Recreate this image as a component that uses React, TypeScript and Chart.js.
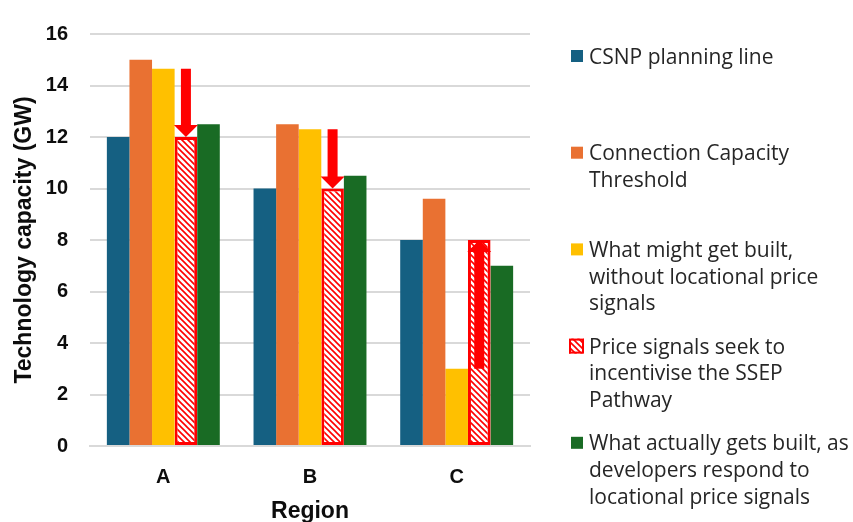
import React, { useEffect, useRef } from "react";
import { Chart, registerables } from "chart.js";

Chart.register(...registerables);

// ---- data ----
const regions = ["A", "B", "C"];
const csnpPlanning = [12, 10, 8];
const connectionThreshold = [15, 12.5, 9.6];
const withoutPriceSignals = [14.65, 12.3, 3];
const ssepPathway = [12, 10, 8];
const actuallyBuilt = [12.5, 10.5, 7];
const yTickValues = [0, 2, 4, 6, 8, 10, 12, 14, 16];

const seriesNames = [
  "CSNP planning line",
  "Connection Capacity Threshold",
  "What might get built, without locational price signals",
  "Price signals seek to incentivise the SSEP Pathway",
  "What actually gets built, as developers respond to locational price signals",
];
const legendLines = [
  ["CSNP planning line"],
  ["Connection Capacity", "Threshold"],
  ["What might get built,", "without locational price", "signals"],
  ["Price signals seek to", "incentivise the SSEP", "Pathway"],
  ["What actually gets built, as", "developers respond to", "locational price signals"],
];

const COLORS = {
  blue: "#156082",
  orange: "#E97132",
  yellow: "#FFC000",
  red: "#FF0000",
  green: "#196B24",
  grid: "#d9d9d9",
  axisText: "#0d0d0d",
  legendText: "#262626",
};

const AXIS_FONT = "'Liberation Sans', Arial, sans-serif";
const LEGEND_FONT = "'Open Sans', sans-serif";

// red diagonal stripes on white
function makeHatch(): CanvasPattern | string {
  const s = 6;
  const c = document.createElement("canvas");
  c.width = s;
  c.height = s;
  const g = c.getContext("2d");
  if (!g) return COLORS.red;
  g.fillStyle = "#ffffff";
  g.fillRect(0, 0, s, s);
  g.strokeStyle = COLORS.red;
  g.lineWidth = 1.6;
  g.beginPath();
  g.moveTo(-1, -1);
  g.lineTo(s + 1, s + 1);
  g.moveTo(s - 1, -1);
  g.lineTo(s + 1, 1);
  g.moveTo(-1, s - 1);
  g.lineTo(1, s + 1);
  g.stroke();
  return g.createPattern(c, "repeat") || COLORS.red;
}

// block arrows from the "without price signals" level to the SSEP level
const arrowPlugin = {
  id: "priceSignalArrows",
  afterDatasetsDraw(chart: any) {
    const meta = chart.getDatasetMeta(3);
    const yScale = chart.scales.y;
    const ctx = chart.ctx as CanvasRenderingContext2D;
    ctx.save();
    ctx.fillStyle = COLORS.red;
    meta.data.forEach((bar: any, i: number) => {
      const x = bar.x;
      const y0 = yScale.getPixelForValue(withoutPriceSignals[i]);
      const y1 = yScale.getPixelForValue(ssepPathway[i]);
      const dir = Math.sign(y1 - y0) || 1;
      const shaftHalf = 5;
      const headHalf = 12;
      const headLen = 12;
      const yNeck = y1 - dir * headLen;
      ctx.beginPath();
      ctx.moveTo(x - shaftHalf, y0);
      ctx.lineTo(x + shaftHalf, y0);
      ctx.lineTo(x + shaftHalf, yNeck);
      ctx.lineTo(x + headHalf, yNeck);
      ctx.lineTo(x, y1);
      ctx.lineTo(x - headHalf, yNeck);
      ctx.lineTo(x - shaftHalf, yNeck);
      ctx.closePath();
      ctx.fill();
    });
    ctx.restore();
  },
};

// legend column on the right with wrapped labels
const sideLegendPlugin = {
  id: "sideLegend",
  afterDraw(chart: any) {
    const ctx = chart.ctx as CanvasRenderingContext2D;
    const boxX = 571;
    const textX = 589;
    const firstBaseline = 63.5;
    const itemStep = 96.7;
    const lineStep = 26.7;
    const capHalf = 7.5;
    ctx.save();
    ctx.font = `21px ${LEGEND_FONT}`;
    ctx.textBaseline = "alphabetic";
    ctx.textAlign = "left";
    chart.data.datasets.forEach((ds: any, i: number) => {
      const base = firstBaseline + i * itemStep;
      const cy = base - capHalf;
      if (ds.borderWidth > 0) {
        const size = 15;
        ctx.fillStyle = ds.backgroundColor;
        ctx.fillRect(boxX - 2, cy - size / 2, size, size);
        ctx.strokeStyle = ds.borderColor;
        ctx.lineWidth = 2;
        ctx.strokeRect(boxX - 1, cy - size / 2 + 1, size - 2, size - 2);
      } else {
        ctx.fillStyle = ds.backgroundColor;
        ctx.fillRect(boxX, cy - 6, 12, 12);
      }
      ctx.fillStyle = COLORS.legendText;
      legendLines[i].forEach((line, j) => {
        ctx.fillText(line, textX, base + j * lineStep);
      });
    });
    ctx.restore();
  },
};

export default function App() {
  const canvasRef = useRef<HTMLCanvasElement | null>(null);

  useEffect(() => {
    const canvas = canvasRef.current;
    if (!canvas) return;
    const hatch = makeHatch();
    const tickFont = { family: AXIS_FONT, size: 20, weight: "bold" as const };

    const chart = new Chart(canvas, {
      type: "bar",
      data: {
        labels: regions,
        datasets: [
          { label: seriesNames[0], data: csnpPlanning, backgroundColor: COLORS.blue, borderWidth: 0 },
          { label: seriesNames[1], data: connectionThreshold, backgroundColor: COLORS.orange, borderWidth: 0 },
          { label: seriesNames[2], data: withoutPriceSignals, backgroundColor: COLORS.yellow, borderWidth: 0 },
          {
            label: seriesNames[3],
            data: ssepPathway,
            backgroundColor: hatch as any,
            borderColor: COLORS.red,
            borderWidth: 3,
            borderSkipped: false,
          },
          { label: seriesNames[4], data: actuallyBuilt, backgroundColor: COLORS.green, borderWidth: 0 },
        ],
      },
      options: {
        animation: false,
        responsive: false,
        devicePixelRatio: 1,
        layout: { padding: { left: 0, top: 23, right: 323, bottom: 0 } },
        datasets: {
          bar: { categoryPercentage: 0.77, barPercentage: 1 },
        },
        plugins: {
          legend: { display: false },
          tooltip: { enabled: false },
        },
        scales: {
          x: {
            grid: { display: false },
            border: { display: true, color: COLORS.grid, width: 2 },
            ticks: { font: tickFont, color: COLORS.axisText, padding: 11 },
            title: {
              display: true,
              text: "Region",
              color: COLORS.axisText,
              font: { family: AXIS_FONT, size: 23, weight: "bold", lineHeight: 1 },
              padding: { top: 0, bottom: -1 },
            },
            afterFit(scale: any) {
              scale.height = 76;
            },
          },
          y: {
            min: 0,
            max: 16,
            afterBuildTicks(scale: any) {
              scale.ticks = yTickValues.map((v) => ({ value: v }));
            },
            ticks: { font: tickFont, color: COLORS.axisText, padding: 22 },
            grid: { color: COLORS.grid, lineWidth: 2, drawTicks: false },
            border: { display: false },
            title: {
              display: true,
              text: "Technology capacity (GW)",
              color: COLORS.axisText,
              font: { family: AXIS_FONT, size: 23, weight: "bold", lineHeight: 1 },
              padding: { top: 13, bottom: 0 },
            },
            afterFit(scale: any) {
              scale.width = 90;
            },
          },
        },
      },
      plugins: [arrowPlugin, sideLegendPlugin],
    });

    return () => chart.destroy();
  }, []);

  return (
    <div style={{ position: "absolute", left: 0, top: 0, width: 853, height: 522, background: "#ffffff" }}>
      <canvas ref={canvasRef} width={853} height={522} />
    </div>
  );
}
